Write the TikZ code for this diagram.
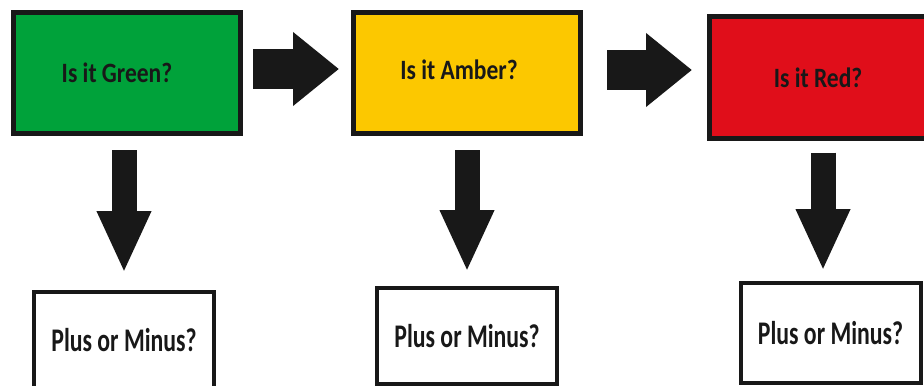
\documentclass[tikz,border=0pt]{standalone}
\usepackage{fontspec}
\setmainfont{Carlito}
\newfontfamily\qfont{Carlito}[FakeStretch=0.84]
\newfontfamily\pmfont{Carlito}[FakeStretch=0.72]
\usepackage{tikz}
\usetikzlibrary{arrows.meta}
\definecolor{boxgreen}{RGB}{0,162,58}
\definecolor{boxamber}{RGB}{252,200,0}
\definecolor{boxred}{RGB}{224,14,26}
\definecolor{ink}{RGB}{24,24,24}
\tikzstyle{question} = [rectangle, 
minimum width=113.5pt, 
minimum height=60.5pt, 
line width=2.5pt, 
text centered, 
draw=ink, 
text=ink, 
font=\qfont\fontsize{14}{16}\selectfont\bfseries]
\tikzstyle{answer} = [rectangle, 
minimum width=90pt, 
minimum height=48pt, 
line width=2pt, 
text centered, 
draw=ink, 
fill=white, 
text=ink, 
font=\pmfont\fontsize{16.5}{18}\selectfont\bfseries]
\tikzstyle{arrow} = [line width=20pt, draw=ink, 
-{Triangle[width=35.5pt, length=23pt]}]
\tikzstyle{downarrow} = [line width=12.5pt, draw=ink, 
-{Triangle[width=25pt, length=31pt]}]
\begin{document}
\begin{tikzpicture}[node distance=170pt]

\path[use as bounding box, clip] (0,0) rectangle (462pt,-192.5pt);

\node (green) [question, fill=boxgreen] at (63.5pt,-36.5pt) {\hspace*{-10pt}Is it Green?};
\node (amber) [question, fill=boxamber, right of=green] {\hspace*{-8pt}\raisebox{3pt}{Is it Amber?}};
\node (red) [question, fill=boxred, right of=amber, xshift=8pt, yshift=-2.25pt] {\hspace*{-5pt}Is it Red?};
\node (pm1) [answer, below of=green, yshift=36.5pt, xshift=-1.5pt] {Plus or Minus?};
\node (pm2) [answer, below of=amber, yshift=38.5pt] {Plus or Minus?};
\node (pm3) [answer, below of=red, yshift=42.25pt, xshift=3.75pt, minimum height=50pt] {Plus or Minus?};

\draw [arrow, shorten <=5pt, shorten >=6pt] ([yshift=2pt]green.east) -- ([yshift=2pt]amber.west);
\draw [arrow, shorten <=12pt, shorten >=7.5pt] ([yshift=1.5pt]amber.east) -- ([yshift=1.5pt]amber.east -| red.west);
\draw [downarrow, shorten <=7pt, shorten >=8.5pt] (green.south -| pm1) -- (pm1.north);
\draw [downarrow, shorten <=7pt, shorten >=7pt] (amber.south -| pm2) -- (pm2.north);
\draw [downarrow, shorten <=6pt, shorten >=5pt] (red.south) -- (red.south |- pm3.north);

\end{tikzpicture}
\end{document}
